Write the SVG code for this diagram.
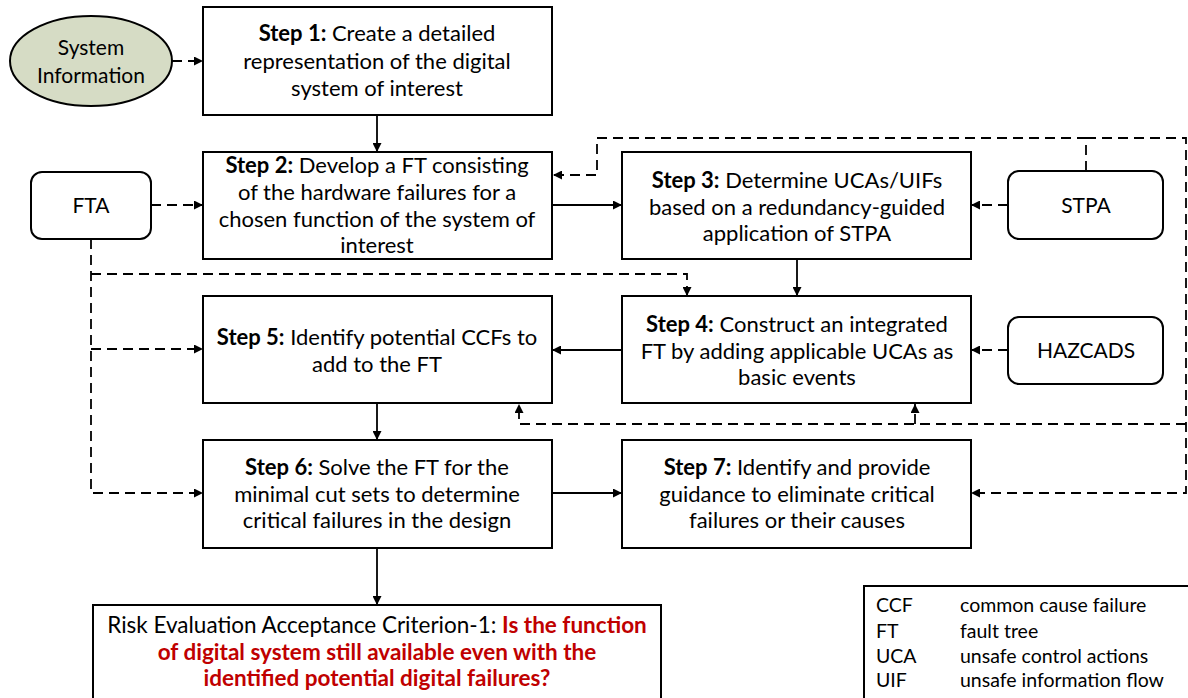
<svg xmlns="http://www.w3.org/2000/svg" width="1188" height="698" viewBox="0 0 1188 698">
  <style>
    text { font-family: Lato, "Noto Sans", "Liberation Sans", sans-serif; font-size: 22px; fill: #000; }
    .c { text-anchor: middle; }
    .b { font-weight: bold; }
    .red { fill: #c00000; font-weight: bold; }
    .crit { font-size: 22.5px; }
    .leg { font-size: 19.5px; }
    .node { font-size: 21px; }
    .box { fill: #fff; stroke: #000; stroke-width: 2; }
    .tool { fill: #fff; stroke: #000; stroke-width: 2; }
    .solid { fill: none; stroke: #000; stroke-width: 1.8; }
    .dash { fill: none; stroke: #000; stroke-width: 1.8; stroke-dasharray: 10 6; }
  </style>
  <defs>
    <marker id="arrow" viewBox="0 0 10 10" refX="10" refY="5" markerWidth="9" markerHeight="9" markerUnits="userSpaceOnUse" orient="auto">
      <path d="M0,0 L10,5 L0,10 Z" fill="#000"/>
    </marker>
  </defs>
  <rect width="1188" height="698" fill="#fff"/>

  <!-- connectors -->
  <g id="connectors">
    <line class="dash" x1="172" y1="61" x2="203" y2="61" marker-end="url(#arrow)"/>
    <line class="solid" x1="377" y1="115" x2="377" y2="152" marker-end="url(#arrow)"/>
    <line class="dash" x1="151" y1="205" x2="203" y2="205" marker-end="url(#arrow)"/>
    <line class="solid" x1="552" y1="205" x2="622" y2="205" marker-end="url(#arrow)"/>
    <line class="dash" x1="1008" y1="205" x2="971" y2="205" marker-end="url(#arrow)"/>
    <path class="dash" d="M1086,171 V138 H597 V175 H553" marker-end="url(#arrow)"/>
    <path class="dash" d="M1086,138 H1186 V493 H971" marker-end="url(#arrow)"/>
    <path class="dash" d="M1186,424 H519 V404" marker-end="url(#arrow)"/>
    <line class="dash" x1="915" y1="424" x2="915" y2="404" marker-end="url(#arrow)"/>
    <line class="solid" x1="797" y1="259" x2="797" y2="296" marker-end="url(#arrow)"/>
    <path class="dash" d="M91,239 V493 H203" marker-end="url(#arrow)"/>
    <line class="dash" x1="91" y1="349" x2="203" y2="349" marker-end="url(#arrow)"/>
    <path class="dash" d="M91,274 H687 V296" marker-end="url(#arrow)"/>
    <line class="dash" x1="1008" y1="350" x2="971" y2="350" marker-end="url(#arrow)"/>
    <line class="solid" x1="622" y1="350" x2="552" y2="350" marker-end="url(#arrow)"/>
    <line class="solid" x1="377" y1="403" x2="377" y2="440" marker-end="url(#arrow)"/>
    <line class="solid" x1="552" y1="493" x2="622" y2="493" marker-end="url(#arrow)"/>
    <line class="solid" x1="377" y1="548" x2="377" y2="605" marker-end="url(#arrow)"/>
  </g>

  <g id="system-information">
    <ellipse cx="91" cy="61" rx="81" ry="45" fill="#d6dcc5" stroke="#000" stroke-width="2"/>
    <text class="c node" x="91" y="55">System</text>
    <text class="c node" x="91" y="83">Information</text>
  </g>

  <g id="step1">
    <rect class="box" x="203" y="7" width="349" height="108"/>
    <text class="c" x="377" y="41"><tspan class="b">Step 1:</tspan> Create a detailed</text>
    <text class="c" x="377" y="69">representation of the digital</text>
    <text class="c" x="377" y="96">system of interest</text>
  </g>

  <g id="step2">
    <rect class="box" x="203" y="152" width="349" height="107"/>
    <text class="c" x="377" y="173"><tspan class="b">Step 2:</tspan> Develop a FT consisting</text>
    <text class="c" x="377" y="200">of the hardware failures for a</text>
    <text class="c" x="377" y="227">chosen function of the system of</text>
    <text class="c" x="377" y="253">interest</text>
  </g>

  <g id="fta">
    <rect class="tool" x="31" y="172" width="120" height="67" rx="11"/>
    <text class="c node" x="91" y="213">FTA</text>
  </g>

  <g id="step3">
    <rect class="box" x="622" y="152" width="349" height="107"/>
    <text class="c" x="797" y="188"><tspan class="b">Step 3:</tspan> Determine UCAs/UIFs</text>
    <text class="c" x="797" y="215">based on a redundancy-guided</text>
    <text class="c" x="797" y="241">application of STPA</text>
  </g>

  <g id="stpa">
    <rect class="tool" x="1008" y="171" width="155" height="68" rx="11"/>
    <text class="c node" x="1086" y="213">STPA</text>
  </g>

  <g id="step4">
    <rect class="box" x="622" y="296" width="349" height="107"/>
    <text class="c" x="797" y="332"><tspan class="b">Step 4:</tspan> Construct an integrated</text>
    <text class="c" x="797" y="359">FT by adding applicable UCAs as</text>
    <text class="c" x="797" y="385">basic events</text>
  </g>

  <g id="hazcads">
    <rect class="tool" x="1008" y="317" width="155" height="67" rx="11"/>
    <text class="c node" x="1086" y="358">HAZCADS</text>
  </g>

  <g id="step5">
    <rect class="box" x="203" y="296" width="349" height="107"/>
    <text class="c" x="377" y="345"><tspan class="b">Step 5:</tspan> Identify potential CCFs to</text>
    <text class="c" x="377" y="372">add to the FT</text>
  </g>

  <g id="step6">
    <rect class="box" x="203" y="440" width="349" height="108"/>
    <text class="c" x="377" y="475"><tspan class="b">Step 6:</tspan> Solve the FT for the</text>
    <text class="c" x="377" y="502">minimal cut sets to determine</text>
    <text class="c" x="377" y="528">critical failures in the design</text>
  </g>

  <g id="step7">
    <rect class="box" x="622" y="440" width="349" height="108"/>
    <text class="c" x="797" y="475"><tspan class="b">Step 7:</tspan> Identify and provide</text>
    <text class="c" x="797" y="502">guidance to eliminate critical</text>
    <text class="c" x="797" y="528">failures or their causes</text>
  </g>

  <g id="criterion">
    <rect class="box" x="93" y="605" width="568" height="110"/>
    <text class="c crit" x="377" y="633">Risk Evaluation Acceptance Criterion-1: <tspan class="red">Is the function</tspan></text>
    <text class="c crit red" x="377" y="660">of digital system still available even with the</text>
    <text class="c crit red" x="377" y="686">identified potential digital failures?</text>
  </g>

  <g id="legend">
    <rect class="box" x="864" y="586" width="340" height="130"/>
    <text class="leg" x="876" y="612">CCF</text>
    <text class="leg" x="960" y="612">common cause failure</text>
    <text class="leg" x="876" y="638">FT</text>
    <text class="leg" x="960" y="638">fault tree</text>
    <text class="leg" x="876" y="663">UCA</text>
    <text class="leg" x="960" y="663">unsafe control actions</text>
    <text class="leg" x="876" y="687">UIF</text>
    <text class="leg" x="960" y="687">unsafe information flow</text>
  </g>
</svg>
